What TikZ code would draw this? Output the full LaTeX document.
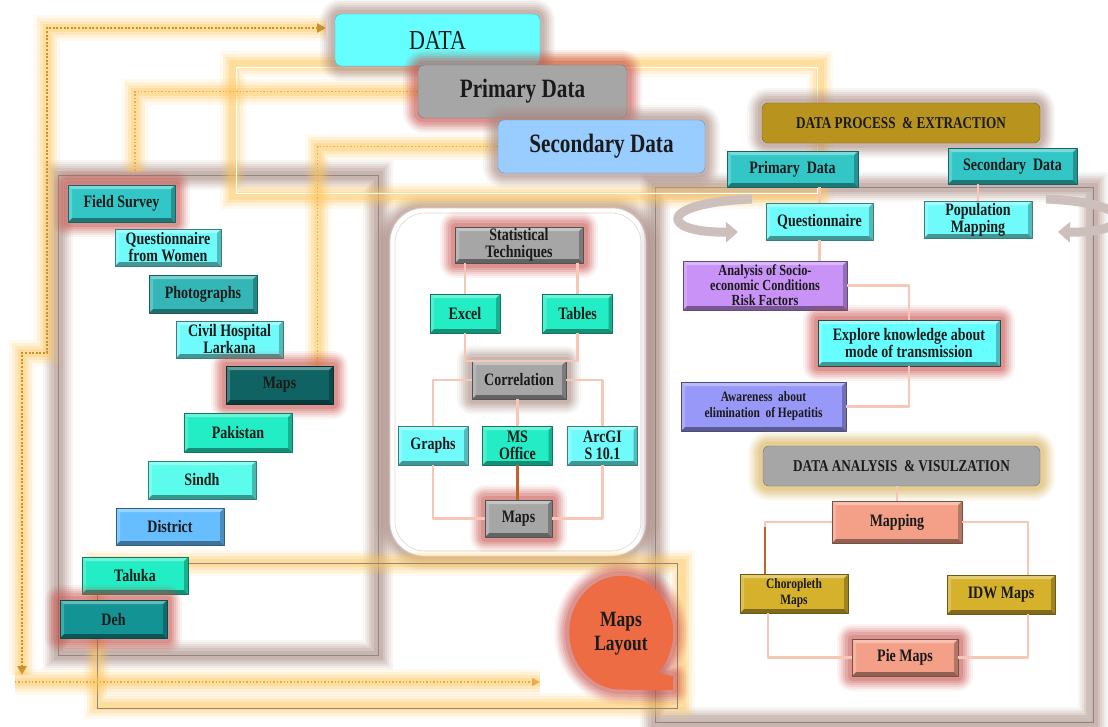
\documentclass[tikz,border=0pt]{standalone}
\usepackage{fontspec}
\setmainfont{Liberation Serif}[FakeStretch=0.8]
\usetikzlibrary{arrows.meta, calc, backgrounds}

\definecolor{cdata}{HTML}{66FFFF}
\definecolor{cgray}{HTML}{A6A6A6}
\definecolor{csky}{HTML}{99CCFF}
\definecolor{cteal}{HTML}{33C6C6}
\definecolor{cphoto}{HTML}{34B6B6}
\definecolor{clcyan}{HTML}{70FBFB}
\definecolor{cdark}{HTML}{0F6363}
\definecolor{caqua}{HTML}{22EDC4}
\definecolor{csindh}{HTML}{5CFCEC}
\definecolor{cdistrict}{HTML}{66BEFF}
\definecolor{cdeh}{HTML}{139393}
\definecolor{cviolet}{HTML}{C992F7}
\definecolor{cblue}{HTML}{9898F8}
\definecolor{cgold}{HTML}{B8941E}
\definecolor{cmustard}{HTML}{D6B22C}
\definecolor{csalmon}{HTML}{F4A088}
\definecolor{corange}{HTML}{EE6C44}
\definecolor{clink}{HTML}{F6C6B6}
\definecolor{clinkdark}{HTML}{C0622E}
\definecolor{cglow}{HTML}{FFC65A}
\definecolor{cdots}{HTML}{C8922E}
\definecolor{cdotslight}{HTML}{E6AE50}
\definecolor{cred}{HTML}{C8504A}
\definecolor{cbrown}{HTML}{A8887F}
\definecolor{cyell}{HTML}{D8B050}
\definecolor{cturn}{HTML}{CDBFBB}
\definecolor{cframe}{HTML}{8E8682}
\definecolor{ctext}{HTML}{1A1A1A}

\newcommand\btnfont{\bfseries\fontsize{17.5}{17}\selectfont}
\newcommand\smallbtnfont{\bfseries\fontsize{14.3}{16}\selectfont}

\tikzset{
    sz/.style 2 args={minimum width=#1, minimum height=#2},
    glow/.style={
        preaction={draw=#1, line width=30pt, opacity=.07},
        preaction={draw=#1, line width=26pt, opacity=.09},
        preaction={draw=#1, line width=22pt, opacity=.12},
        preaction={draw=#1, line width=18pt, opacity=.15},
        preaction={draw=#1, line width=14pt, opacity=.18},
        preaction={draw=#1, line width=9pt, opacity=.24}},
    oglow/.style={line cap=round, line join=round,
        preaction={draw=cglow, line width=26pt, opacity=.1},
        preaction={draw=cglow, line width=20pt, opacity=.15},
        preaction={draw=cglow, line width=14pt, opacity=.22},
        preaction={draw=cglow, line width=8pt, opacity=.3}},
    bevel/.style={path picture={
        \coordinate (bl) at (path picture bounding box.south west);
        \coordinate (tr) at (path picture bounding box.north east);
        \fill[#1!50!black, opacity=.8] (bl) -- (bl -| tr) -- ([shift={(-4pt,4pt)}]bl -| tr) -- ([shift={(4pt,4pt)}]bl) -- cycle;
        \fill[#1!68!black, opacity=.8] (bl -| tr) -- (tr) -- ([shift={(-4pt,-4pt)}]tr) -- ([shift={(-4pt,4pt)}]bl -| tr) -- cycle;
        \fill[white, opacity=.35] (tr) -- (tr -| bl) -- ([shift={(4pt,-4pt)}]tr -| bl) -- ([shift={(-4pt,-4pt)}]tr) -- cycle;
        \fill[white, opacity=.2] (tr -| bl) -- (bl) -- ([shift={(4pt,4pt)}]bl) -- ([shift={(4pt,-4pt)}]tr -| bl) -- cycle;
    }},
    btn/.style={fill=#1, draw=#1!50!black, line width=.4pt, text=ctext,
        font=\btnfont, align=center, inner sep=1pt, bevel=#1},
    plate/.style={fill=#1, draw=#1!70!black, line width=.4pt, rounded corners=6pt,
        text=ctext, align=center},
    link/.style={draw=clink, line width=2.5pt},
    darklink/.style={draw=clinkdark, line width=2.5pt},
    mdots/.style={draw=cdots, line width=2.4pt, dash pattern=on 2pt off 1.6pt},
    ldots/.style={draw=cdotslight, line width=1.3pt, dash pattern=on 1.4pt off 2pt},
    panel/.style={draw=cframe, line width=.7pt},
    turn/.style={draw=cturn, line width=9pt, -{Triangle[length=12pt, width=20pt]}},
}

\begin{document}
\begin{tikzpicture}[x=1pt, y=-1pt, line join=round]

    \useasboundingbox (0,0) rectangle (1108,726);

    % titles
    \node[plate=cdata, glow=cbrown, sz={205}{52}, font=\fontsize{27.5}{27}\selectfont] (data) at (437.5,40) {DATA};
    \node[plate=cgray, glow=cred, sz={209}{53}, font=\bfseries\fontsize{26.5}{26}\selectfont] (pdata) at (522.5,91.5) {Primary Data};
    \node[plate=csky, glow=cbrown, sz={207}{53}, font=\bfseries\fontsize{26.5}{26}\selectfont] (sdata) at (601.5,146.5) {Secondary Data};

    % left column
    \node[btn=cteal, glow=cred, sz={107}{37}] (field) at (121.5,203.5) {Field Survey};
    \node[btn=clcyan, sz={106}{37}] (quest) at (168,247.5) {Questionnaire\\from Women};
    \node[btn=cphoto, sz={108}{38}] (photo) at (203,294) {Photographs};
    \node[btn=clcyan, sz={107}{37}] (civil) at (229.5,339.5) {Civil Hospital\\Larkana};
    \node[btn=cdark, glow=cred, sz={107}{38}] (lmaps) at (279.5,385) {Maps};
    \node[btn=caqua, sz={108}{39}] (pak) at (238,432.5) {Pakistan};
    \node[btn=csindh, sz={108}{38}] (sindh) at (202,480) {Sindh};
    \node[btn=cdistrict, sz={108}{37}] (district) at (170,526.5) {District};
    \node[btn=caqua, sz={106}{37}] (taluka) at (135,575.5) {Taluka};
    \node[btn=cdeh, glow=cred, sz={107}{38}] (deh) at (113.5,619) {Deh};

    % middle column
    \node[btn=cgray, glow=cred, sz={128}{36}] (stat) at (519,245) {Statistical\\Techniques};
    \node[btn=caqua, sz={70}{39}] (excel) at (465,313.5) {Excel};
    \node[btn=caqua, sz={70}{39}] (tables) at (577.5,313.5) {Tables};
    \node[btn=cgray, glow=cbrown, sz={94}{38}] (corr) at (519,380) {Correlation};
    \node[btn=clcyan, sz={70}{39}] (graphs) at (433,445.5) {Graphs};
    \node[btn=caqua, sz={70}{39}] (msoff) at (517.5,445.5) {MS\\Office};
    \node[btn=clcyan, sz={70}{39}] (arcgis) at (602.5,445.5) {ArcGI\\S 10.1};
    \node[btn=cgray, glow=cred, sz={67}{37}] (mmaps) at (518.5,518.5) {Maps};

    % right column
    \node[plate=cgold, glow=cbrown, sz={278}{40}, font=\bfseries\fontsize{16.5}{17}\selectfont] (dpe) at (901,123) {DATA PROCESS \ \& EXTRACTION};
    \node[btn=cteal, sz={131}{36}] (rpd) at (792.5,169) {Primary \ Data};
    \node[btn=cteal, sz={129}{36}] (rsd) at (1012.5,166) {Secondary \ Data};
    \node[btn=clcyan, sz={107}{37}] (rq) at (819.5,221.5) {Questionnaire};
    \node[btn=clcyan, sz={108}{37}] (popmap) at (978,219.5) {Population\\Mapping};
    \node[btn=cviolet, sz={164}{49}, font=\bfseries\fontsize{15.4}{15}\selectfont] (analysis) at (765,285.5) {Analysis of Socio-\\economic Conditions\\Risk Factors};
    \node[btn=cdata, draw=black!75, glow=cred, sz={182}{46}] (explore) at (909,343) {Explore knowledge about\\mode of transmission};
    \node[btn=cblue, sz={165}{49}, font=\smallbtnfont] (aware) at (763.5,406.5) {Awareness \ about\\elimination \ of Hepatitis};
    \node[plate=cgray, glow=cyell, sz={277}{40}, font=\bfseries\fontsize{16.5}{17}\selectfont] (dav) at (901.5,466) {DATA ANALYSIS \ \& VISULZATION};
    \node[btn=csalmon, sz={130}{42}] (mapping) at (897,522) {Mapping};
    \node[btn=cmustard, sz={108}{39}, font=\smallbtnfont] (choro) at (794,593.5) {Choropleth\\Maps};
    \node[btn=cmustard, sz={108}{39}] (idw) at (1001,594.5) {IDW Maps};
    \node[btn=csalmon, glow=cred, sz={106}{37}] (pie) at (905,657.5) {Pie Maps};

    % maps layout drop
    \fill[corange, glow=cred] (658,673) arc[start angle=45, end angle=-270, x radius=52, y radius=57]
        -- (673,690) -- (673,676) -- cycle;
    \node[font=\bfseries\fontsize{21.8}{24}\selectfont, text=ctext, align=center] (layout) at (621,634) {Maps\\Layout};

    % middle links
    \draw[link] (excel.north) -- (excel.north |- stat.south);
    \draw[link] (tables.north) -- (tables.north |- stat.south);
    \draw[link] (excel.south) |- (corr.north) -| (tables.south);
    \draw[link] (corr.west) -| (graphs.north);
    \draw[link] (corr.east) -| (arcgis.north);
    \draw[link] (msoff.north) -- (msoff.north |- corr.south);
    \draw[darklink] (msoff.south) -- (msoff.south |- mmaps.north);
    \draw[link] (graphs.south) |- (mmaps.west);
    \draw[link] (arcgis.south) |- (mmaps.east);

    % right links
    \draw[link] (rq.north) -- (rq.north |- rpd.south);
    \draw[link] (popmap.north) -- (popmap.north |- rsd.south);
    \draw[link] (rq.south) -- (rq.south |- analysis.north);
    \draw[link] (analysis.east) -| (explore.north);
    \draw[link] (explore.south) |- (aware.east);
    \draw[link] (mapping.north) -- (mapping.north |- dav.south);
    \draw[link] (mapping.west) -| ([xshift=-29pt]choro.north);
    \draw[darklink] ([xshift=-29pt]choro.north) -- ++(0,-47);
    \draw[link] (mapping.east) -| ([xshift=27pt]idw.north);
    \draw[link] ([xshift=-26pt]choro.south) |- (pie.west);
    \draw[link] ([xshift=27pt]idw.south) |- (pie.east);

    % turning arrows
    \draw[turn] (752,199) .. controls (655,203) and (660,233) .. (738,232);
    \draw[turn] (1046,199) .. controls (1140,203) and (1135,233) .. (1058,232);

    \coordinate (fsin) at (135,172);
    \coordinate (dataarr) at (326,28);
    \coordinate (downarr) at (22,675);
    \coordinate (botstart) at (15,682);
    \coordinate (botend) at (540,682);

    \begin{pgfonlayer}{background}
        \fill[white] (0,0) rectangle (1108,726);

        % frames
        \draw[panel, glow=cbrown] (58,175) rectangle (378,655);
        \draw[panel, draw=cbrown!40, fill=white, rounded corners=34pt, glow=cbrown] (390,208) rectangle (646,556);
        \draw[cbrown!35, line width=.6pt, rounded corners=30pt] (395,213) rectangle (641,551);
        \draw[panel, glow=cbrown] (655,187) rectangle (1093,722);
        \draw[cturn, line width=6pt, opacity=.8] (1089,192) -- (1089,718) -- (660,718);

        % orange paths
        \path[oglow] (233,64) rectangle (820,196);
        \draw[white, line width=.6pt] (236,67) rectangle (817,193);
        \path[oglow] (pdata.west) -| (fsin);
        \draw[ldots] (pdata.west) -| (fsin);
        \path[oglow] (sdata.west) -| ([xshift=38pt]lmaps.north);
        \draw[ldots] (sdata.west) -| ([xshift=38pt]lmaps.north);
        \path[oglow] (97,563) rectangle (682,706);
        \draw[cframe, line width=.6pt] (taluka.east |- 0,563) -- (677,563) -- (677,708) -- (97,708) -- (97,594);
        \path[oglow] (dataarr) -- (47,28) -- (47,353) -- (22,353) -- (downarr);
        \draw[mdots, {Triangle[length=9pt, width=9pt]}-{Triangle[length=9pt, width=9pt]}]
            (dataarr) -- (47,28) -- (47,353) -- (22,353) -- (downarr);
        \path[oglow] (botstart) -- (botend);
        \draw[ldots, line width=1.6pt, -{Triangle[length=8pt, width=8pt]}] (botstart) -- (botend);
    \end{pgfonlayer}

\end{tikzpicture}
\end{document}
